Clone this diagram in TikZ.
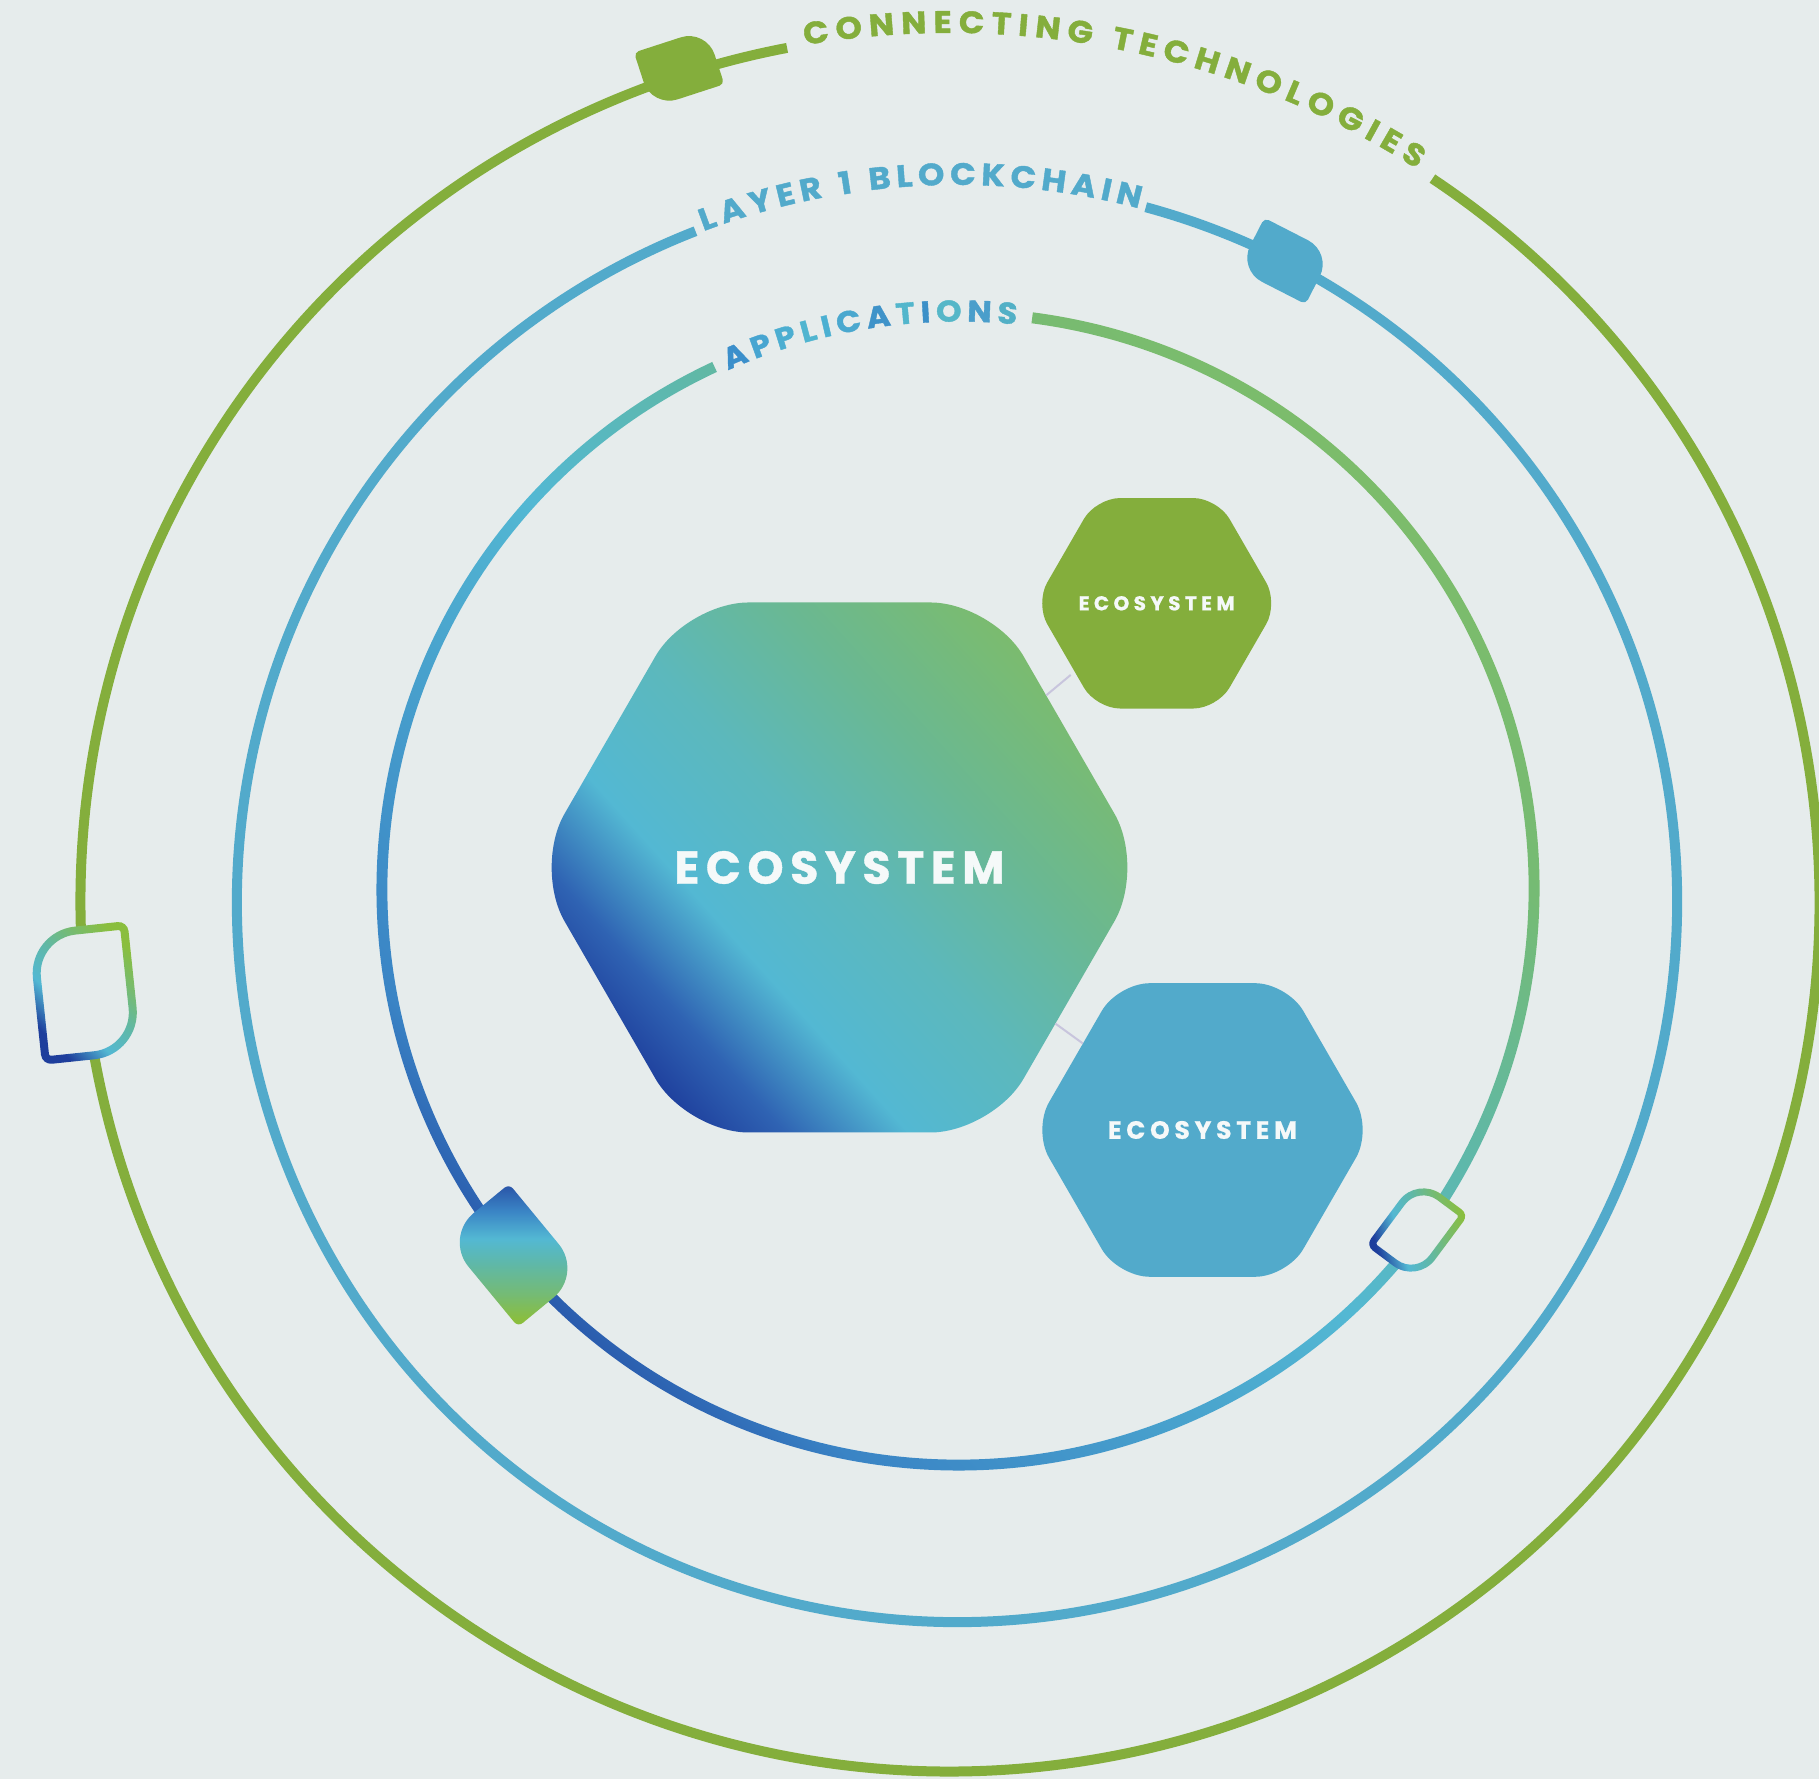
\documentclass[tikz,border=0pt]{standalone}
\usepackage{fontspec}
\newfontfamily\pop{Poppins}[BoldFeatures={FakeBold=0.8}]
\newfontfamily\popA{Poppins}[BoldFeatures={FakeBold=1.3,FakeStretch=1.08}]
\usetikzlibrary{shapes.geometric}
\definecolor{bg}{HTML}{E6ECEC}
\definecolor{gGreen}{HTML}{84AE3C}
\definecolor{gBlue}{HTML}{52AACB}
\definecolor{cDark}{HTML}{1E3E9C}
\definecolor{cMid}{HTML}{3A84C5}
\definecolor{cCyan}{HTML}{53B8D3}
\definecolor{cTeal}{HTML}{5FB8A8}
\definecolor{cLg}{HTML}{75BB74}
\definecolor{cLgB}{HTML}{7DBC6A}
\definecolor{hA}{HTML}{2F63B3}
\definecolor{hB}{HTML}{5CB8BC}
\definecolor{hC}{HTML}{6AB892}
\definecolor{lfG}{HTML}{8ABE3E}
\definecolor{dtop}{HTML}{2A55A8}
\definecolor{conn}{HTML}{C8C5DD}
\definecolor{txtw}{HTML}{F5F9F9}
\definecolor{aA}{HTML}{3B8FCB}
\definecolor{aB}{HTML}{47A5D1}
\definecolor{aC}{HTML}{4CAED1}
\definecolor{aD}{HTML}{50B5D0}
\definecolor{aE}{HTML}{4BB0D2}
\definecolor{aF}{HTML}{4AA8CF}
\definecolor{aG}{HTML}{3F93C9}
\definecolor{aH}{HTML}{52B6CC}
\definecolor{aI}{HTML}{3C90C8}
\definecolor{aJ}{HTML}{55B7C8}
\definecolor{aK}{HTML}{4A9ECB}
\definecolor{aL}{HTML}{52B0C6}

\pgfdeclarehorizontalshading{ringgrad}{100bp}{color(0bp)=(cDark); color(25bp)=(cDark); color(32bp)=(cMid); color(50bp)=(cCyan); color(58bp)=(cTeal); color(67bp)=(cLg); color(75bp)=(cLgB); color(100bp)=(cLgB)}
\pgfdeclarehorizontalshading{hexgrad}{100bp}{color(0bp)=(cDark); color(25bp)=(cDark); color(31bp)=(hA); color(39bp)=(cCyan); color(50bp)=(hB); color(62bp)=(hC); color(76bp)=(cLgB); color(100bp)=(cLgB)}
\pgfdeclarehorizontalshading{leafgrad}{100bp}{color(0bp)=(cDark); color(27bp)=(cDark); color(40bp)=(cCyan); color(52bp)=(cTeal); color(63bp)=(cLg); color(75bp)=(lfG); color(100bp)=(lfG)}
\pgfdeclareverticalshading{diagrad}{100bp}{color(0bp)=(lfG); color(27bp)=(lfG); color(36bp)=(cLg); color(47bp)=(cTeal); color(56bp)=(cCyan); color(66bp)=(cMid); color(75bp)=(dtop); color(100bp)=(dtop)}

% hexagon path (flat top) : cx, cy, R
\newcommand\hexpath[3]{(#1,{#2+0.8660254*#3}) -- ({#1+0.5*#3},{#2+0.8660254*#3}) -- ({#1+#3},#2) -- ({#1+0.5*#3},{#2-0.8660254*#3}) -- ({#1-0.5*#3},{#2-0.8660254*#3}) -- ({#1-#3},#2) -- ({#1-0.5*#3},{#2+0.8660254*#3}) -- cycle}
% leaf path : half length a, half width b, big radius, small radius
\newcommand\leafpath[4]{(0,#2) -- ({#1-#3},#2) arc[start angle=90,end angle=0,radius=#3] -- (#1,{-#2+#4}) arc[start angle=0,end angle=-90,radius=#4] -- ({-#1+#3},-#2) arc[start angle=-90,end angle=-180,radius=#3] -- (-#1,{#2-#4}) arc[start angle=180,end angle=90,radius=#4] -- cycle}

% tracked word
\newdimen\fwk
\def\trkloop#1{\ifx#1\relax\else#1\trkkern\expandafter\trkloop\fi}
\newcommand\fitword[2]{\setbox2=\hbox{#2}\fwk=#1pt\advance\fwk by -\wd2\divide\fwk by 8\relax\def\trkkern{\kern\fwk}\trkloop#2\relax\unkern}

% word gap inside arc texts
\newcommand\ctgap{\kern6pt}
\def\fontO{\popA\bfseries\fontsize{31}{33}\selectfont}
\def\fontI{\popA\bfseries\fontsize{30}{32}\selectfont}
\def\listO{C/gGreen,O/gGreen,N/gGreen,N/gGreen,E/gGreen,C/gGreen,T/gGreen,I/gGreen,N/gGreen,G/gGreen,\ctgap/gGreen,T/gGreen,E/gGreen,C/gGreen,H/gGreen,N/gGreen,O/gGreen,L/gGreen,O/gGreen,G/gGreen,I/gGreen,E/gGreen,S/gGreen}
\def\listM{L/gBlue,A/gBlue,Y/gBlue,E/gBlue,R/gBlue,\ctgap/gBlue,1/gBlue,\ctgap/gBlue,B/gBlue,L/gBlue,O/gBlue,C/gBlue,K/gBlue,C/gBlue,H/gBlue,A/gBlue,I/gBlue,N/gBlue}
\def\listI{A/aA,P/aB,P/aC,L/aD,I/aE,C/aF,A/aG,T/aH,I/aI,O/aJ,N/aK,S/aL}

% measuring (done outside the picture)
\newdimen\ctpos
\newdimen\cttot
\newdimen\ctw
\newcount\ctn
\newcount\ctk
\newcommand\measuretext[3]{%
  \global\cttot=0pt\global\ctn=0
  \foreach \ch/\col in #3{\setbox0=\hbox{#2\ch}\global\advance\ctn by 1\relax
    \expandafter\xdef\csname ctw#1\the\ctn\endcsname{\the\wd0}\global\advance\cttot by \wd0\relax}%
  \expandafter\xdef\csname cttot#1\endcsname{\the\cttot}%
  \expandafter\xdef\csname ctn#1\endcsname{\the\ctn}%
}
% text along a circle: id, center, radius, start angle, end angle, font, list
\newcommand\circtext[7]{%
  \pgfmathsetmacro\ctarc{(#4-#5)*pi/180*#3}%
  \pgfmathsetmacro\cttrk{(\ctarc-\csname cttot#1\endcsname)/(\csname ctn#1\endcsname-1)}%
  \global\ctpos=0pt\global\ctk=0
  \foreach \ch/\col in #7{%
    \global\advance\ctk by 1\relax
    \global\ctw=\csname ctw#1\the\ctk\endcsname\relax
    \pgfmathsetmacro\ctang{#4-(\ctpos+0.5*\ctw)/(#3)*180/pi}%
    \node[text=\col, inner sep=0pt, rotate=\ctang-90] at ([shift={(\ctang:#3)}]#2) {#6\ch};
    \global\advance\ctpos by \ctw
    \global\advance\ctpos by \cttrk pt\relax
  }%
}

\tikzset{
  hexnode/.style={regular polygon, regular polygon sides=6, inner sep=0pt, outer sep=0pt, draw=none, text=txtw},
  linkln/.style={draw=conn, line width=2pt},
  ringline/.style={line width=10pt}
}

\begin{document}
\measuretext{o}{\fontO}{\listO}%
\measuretext{m}{\fontO}{\listM}%
\measuretext{i}{\fontI}{\listI}%
\begin{tikzpicture}[x=1pt,y=1pt]
\useasboundingbox (0,0) rectangle (1819,1779);
\fill[bg] (0,0) rectangle (1819,1779);

\coordinate (O) at (950,877);
\coordinate (M) at (957,877);
\coordinate (I) at (958,890);

% outer circle
\draw[ringline, gGreen] ([shift={(56.3:869.5)}]O) arc[start angle=56.3, end angle=-259.2, radius=869.5];
% middle circle
\draw[ringline, gBlue] ([shift={(74.8:720)}]M) arc[start angle=74.8, end angle=-248.7, radius=720];
% inner circle (gradient ring)
\shade[shading=ringgrad, shading angle=45] ([shift={(82.6:581.5)}]I) arc[start angle=82.6, end angle=-245, radius=581.5] -- ([shift={(-245:570.5)}]I) arc[start angle=-245, end angle=82.6, radius=570.5] -- cycle;

% texts on the circles
\circtext{o}{O}{880}{99.6}{57.5}{\fontO}{\listO}
\circtext{m}{M}{728}{110.7}{75.3}{\fontO}{\listM}
\circtext{i}{I}{578}{113.9}{84.1}{\fontI}{\listI}

% markers on the circles
\coordinate (lfA) at ([shift={(108:876.5)}]O);
\coordinate (lfB) at ([shift={(62.9:720)}]M);
\coordinate (lfC) at ([shift={(186:870)}]O);
\coordinate (lfD) at ([shift={(219.5:576)}]I);
\coordinate (lfE) at ([shift={(-36.6:572)}]I);

\begin{scope}[shift={(lfA)}, rotate=18]
  \fill[gGreen] \leafpath{38}{29}{27}{5};
\end{scope}
\begin{scope}[shift={(lfB)}, rotate=-27.1]
  \fill[gBlue] \leafpath{38}{29}{27}{5};
\end{scope}
\begin{scope}[shift={(lfC)}, rotate=96]
  \fill[bg] \leafpath{63}{46}{43}{6};
  \shade[shading=leafgrad, shading angle=45, even odd rule] \leafpath{67}{50}{47}{10} \leafpath{59}{42}{39}{2};
\end{scope}
\begin{scope}[shift={(lfD)}, rotate=129.5]
  \shade[shading=diagrad] \leafpath{58}{42}{38}{6};
\end{scope}
\begin{scope}[shift={(lfE)}, rotate=-126.6]
  \fill[bg] \leafpath{39.5}{28.5}{26.5}{5};
  \shade[shading=leafgrad, shading angle=16, even odd rule] \leafpath{43}{32}{30}{8.5} \leafpath{36}{25}{23}{1.5};
\end{scope}

% hexagons
\shade[shading=hexgrad, shading angle=42, rounded corners=62pt] \hexpath{839.5}{911.5}{306};
\fill[gGreen, rounded corners=24pt] \hexpath{1156.7}{1175.7}{121.5};
\fill[gBlue, rounded corners=32pt] \hexpath{1202.5}{649}{169.5};

\node[hexnode, minimum size=612pt] (eco) at (839.5,911.5) {\pop\bfseries\fontsize{46}{50}\selectfont\fitword{330}{ECOSYSTEM}};
\node[hexnode, minimum size=243pt] (ecoA) at (1156.7,1175.7) {\pop\bfseries\fontsize{20}{24}\selectfont\fitword{156}{ECOSYSTEM}};
\node[hexnode, minimum size=339pt] (ecoB) at (1202.5,649) {\pop\bfseries\fontsize{25}{29}\selectfont\fitword{189}{ECOSYSTEM}};

\draw[linkln] (eco) -- (ecoA);
\draw[linkln] (eco) -- (ecoB);
\end{tikzpicture}
\end{document}
